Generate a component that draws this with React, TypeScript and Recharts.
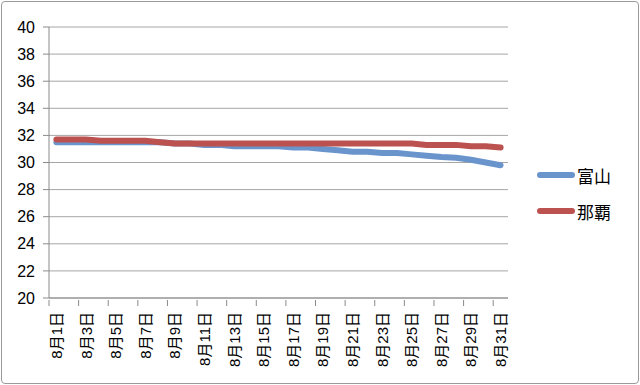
import { LineChart, Line, XAxis, YAxis, CartesianGrid, Legend } from 'recharts';

const days = Array.from({ length: 31 }, (_, i) => `8月${i + 1}日`);
const toyama = [
  31.5, 31.5, 31.5, 31.5, 31.5, 31.5, 31.5, 31.5, 31.4, 31.4,
  31.3, 31.3, 31.2, 31.2, 31.2, 31.2, 31.1, 31.1, 31.0, 30.9,
  30.8, 30.8, 30.7, 30.7, 30.6, 30.5, 30.4, 30.35, 30.2, 30.0, 29.8,
];
const naha = [
  31.7, 31.7, 31.7, 31.6, 31.6, 31.6, 31.6, 31.5, 31.4, 31.4,
  31.4, 31.4, 31.4, 31.4, 31.4, 31.4, 31.4, 31.4, 31.4, 31.4,
  31.4, 31.4, 31.4, 31.4, 31.4, 31.3, 31.3, 31.3, 31.2, 31.2, 31.1,
];
const yTicks = [20, 22, 24, 26, 28, 30, 32, 34, 36, 38, 40];

const data = days.map((name, i) => ({ name, toyama: toyama[i], naha: naha[i] }));

const FONT = '"Liberation Sans", "Noto Sans CJK JP", sans-serif';
const AXIS = '#8a8a8a';
const BLUE = '#6a94cc';
const RED = '#bb524f';

function DayTick(props: any) {
  const { x, y, payload } = props;
  const off = payload?.offset ?? 0;
  return (
    <g>
      <line x1={x - off} x2={x - off} y1={y - 12} y2={y - 6} stroke={AXIS} strokeWidth={1} />
      <text
        x={x}
        y={y}
        transform={`rotate(-90, ${x}, ${y})`}
        textAnchor="end"
        dominantBaseline="central"
        fontSize={15}
        fontFamily={FONT}
        fill="#000"
      >
        {payload.value}
      </text>
    </g>
  );
}

function LegendBox() {
  const items = [
    { label: '富山', color: BLUE },
    { label: '那覇', color: RED },
  ];
  return (
    <div style={{ fontFamily: FONT }}>
      {items.map((it) => (
        <div key={it.label} style={{ display: 'flex', alignItems: 'center', height: 36 }}>
          <svg width={40} height={8}>
            <line x1={4} x2={36} y1={4} y2={4} stroke={it.color} strokeWidth={6} strokeLinecap="round" />
          </svg>
          <span style={{ fontSize: 17, color: '#000', marginLeft: 1 }}>{it.label}</span>
        </div>
      ))}
    </div>
  );
}

export default function App() {
  return (
    <div style={{ position: 'absolute', left: 0, top: 0, width: 640, height: 385, background: '#fff' }}>
      <LineChart width={640} height={385} data={data} margin={{ top: 27, right: 132, left: 0, bottom: 7 }}>
        <CartesianGrid vertical={false} stroke="#a6a6a6" strokeWidth={1} />
        <XAxis
          dataKey="name"
          scale="band"
          interval={1}
          height={80}
          tickLine={false}
          tickMargin={8}
          stroke={AXIS}
          tick={<DayTick />}
        />
        <YAxis
          domain={[20, 40]}
          ticks={yTicks}
          width={49}
          stroke={AXIS}
          tickSize={6}
          tickMargin={8}
          tick={{ fill: '#000', fontSize: 16, fontFamily: FONT }}
        />
        <Legend
          layout="vertical"
          align="center"
          verticalAlign="middle"
          content={<LegendBox />}
          wrapperStyle={{ left: 536, top: 157, width: 100 }}
        />
        <Line
          dataKey="toyama"
          name="富山"
          stroke={BLUE}
          strokeWidth={6}
          strokeLinecap="round"
          dot={false}
          isAnimationActive={false}
        />
        <Line
          dataKey="naha"
          name="那覇"
          stroke={RED}
          strokeWidth={6}
          strokeLinecap="round"
          dot={false}
          isAnimationActive={false}
        />
      </LineChart>
      <div
        style={{
          position: 'absolute',
          left: 1,
          top: 1,
          width: 638,
          height: 383,
          boxSizing: 'border-box',
          border: '1px solid #9a9a9a',
          borderRadius: 4,
          pointerEvents: 'none',
        }}
      />
    </div>
  );
}
